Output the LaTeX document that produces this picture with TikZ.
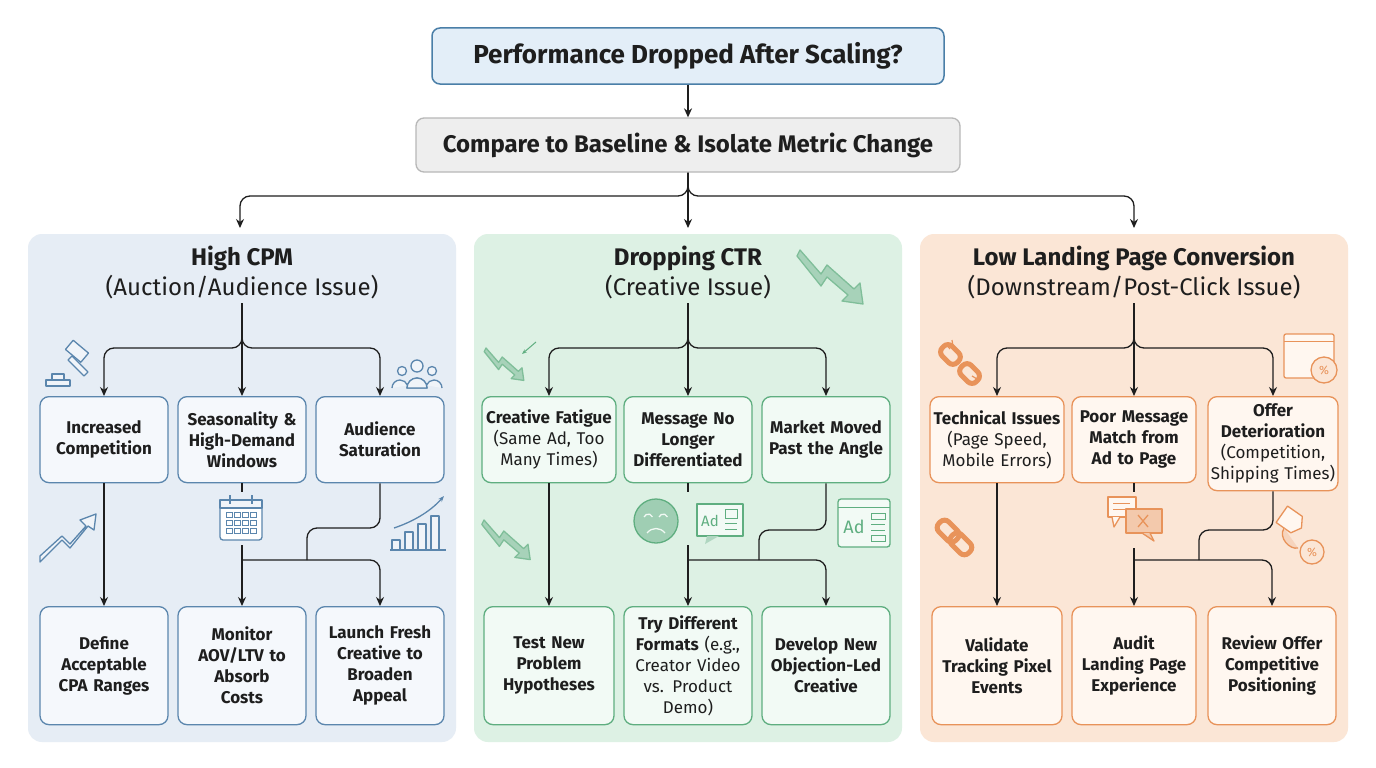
\documentclass[tikz,border=0pt]{standalone}
\usepackage{fontspec}
\setmainfont{Fira Sans}
\usetikzlibrary{arrows.meta}
\definecolor{bB}{HTML}{5B86AD}\definecolor{bF}{HTML}{E6EDF5}\definecolor{bL}{HTML}{F5F8FC}
\definecolor{gB}{HTML}{5FAE80}\definecolor{gF}{HTML}{DDF1E4}\definecolor{gL}{HTML}{F2FAF5}
\definecolor{oB}{HTML}{E8935A}\definecolor{oF}{HTML}{FBE6D6}\definecolor{oL}{HTML}{FFF7F0}
\definecolor{tF}{HTML}{E3EEF8}\definecolor{tB}{HTML}{4A7FA8}
\definecolor{sF}{HTML}{EEEEEE}\definecolor{sB}{HTML}{B8B8B8}
\definecolor{ink}{HTML}{1E1E1E}
\tikzset{
 box/.style={draw=#1B,fill=#1L,line width=1.3pt,rounded corners=9pt,align=center,
   font=\fontsize{17}{21}\selectfont\bfseries,text=ink,inner sep=1pt},
 panel/.style={fill=#1F,rounded corners=14pt,draw=none},
 ptitle/.style={align=center,text=ink,font=\fontsize{24}{30}\selectfont},
 arr/.style={-{Stealth[length=9pt,width=8pt]},line width=1.3pt,draw=ink,rounded corners=10pt},
 ln/.style={line width=1.3pt,draw=ink,rounded corners=10pt},
 ic/.style={line width=1.3pt,draw=#1B,fill=#1F!60!white,line join=round},
}
\newcommand{\nb}[1]{{\mdseries #1}}
\begin{document}
\begin{tikzpicture}[x=1pt,y=-1pt]
\useasboundingbox[fill=white] (0,0) rectangle (1376,768);
% panels
\fill[panel=b] (28,234) rectangle (456,742);
\fill[panel=g] (474,234) rectangle (902,742);
\fill[panel=o] (920,234) rectangle (1348,742);
% header
\node[draw=tB,fill=tF,line width=1.5pt,rounded corners=8pt,minimum width=512pt,minimum height=56pt,
  font=\fontsize{26}{30}\selectfont\bfseries,text=ink] (top) at (688,56) {Performance Dropped After Scaling?};
\node[draw=sB,fill=sF,line width=1.3pt,rounded corners=8pt,minimum width=544pt,minimum height=54pt,
  font=\fontsize{24}{28}\selectfont\bfseries,text=ink] (cmp) at (688,145) {Compare to Baseline \& Isolate Metric Change};
\coordinate (pl) at (240,228); \coordinate (pm) at (688,228); \coordinate (pr) at (1134,228);
\coordinate (sp) at (688,196);
\draw[arr] (top) -- (cmp);
\draw[arr] (cmp) -- (pm);
\draw[arr] (cmp.south) |- (sp) -| (pl);
\draw[arr] (cmp.south) |- (sp) -| (pr);
% panel titles
\node[ptitle] (tl) at (242,273) {\textbf{High CPM}\\(Auction/Audience Issue)};
\node[ptitle] (tm) at (688,273) {\textbf{Dropping CTR}\\(Creative Issue)};
\node[ptitle] (tr) at (1134,273) {\textbf{Low Landing Page Conversion}\\(Downstream/Post-Click Issue)};
% boxes row1
\foreach \n/\x/\w/\c/\t in {
 la/104/128/b/{Increased\\Competition},
 lb/242/128/b/{Seasonality \&\\High-Demand\\Windows},
 lc/380/128/b/{Audience\\Saturation},
 ma/549/134/g/{Creative Fatigue\\\nb{(Same Ad, Too}\\\nb{Many Times)}},
 mb/688/128/g/{Message No\\Longer\\Differentiated},
 mc/826/128/g/{Market Moved\\Past the Angle},
 ra/997/134/o/{Technical Issues\\\nb{(Page Speed,}\\\nb{Mobile Errors)}},
 rb/1134/124/o/{Poor Message\\Match from\\Ad to Page}}
 {\node[box=\c,minimum width=\w pt,text width=\w pt - 4pt,minimum height=86pt,anchor=north] (\n) at (\x,396) {\t};}
\node[box=o,minimum width=130pt,text width=126pt,minimum height=94pt,anchor=north] (rc) at (1273,396)
 {Offer\\Deterioration\\\nb{(Competition,}\\\nb{Shipping Times)}};
% row2
\foreach \n/\x/\w/\c/\t in {
 lA/104/128/b/{Define\\Acceptable\\CPA Ranges},
 lB/242/128/b/{Monitor\\AOV/LTV to\\Absorb\\Costs},
 lC/380/128/b/{Launch Fresh\\Creative to\\Broaden\\Appeal},
 mA/549/130/g/{Test New\\Problem\\Hypotheses},
 mB/688/128/g/{Try Different\\Formats \nb{(e.g.,}\\\nb{Creator Video}\\\nb{vs. Product}\\\nb{Demo)}},
 mC/826/128/g/{Develop New\\Objection-Led\\Creative},
 rA/997/130/o/{Validate\\Tracking Pixel\\Events},
 rB/1134/124/o/{Audit\\Landing Page\\Experience},
 rC/1272/128/o/{Review Offer\\Competitive\\Positioning}}
 {\node[box=\c,minimum width=\w pt,text width=\w pt - 4pt,minimum height=118pt,anchor=north] (\n) at (\x,606) {\t};}
% connectors per panel
\foreach \P/\a/\b/\c/\A/\B/\C/\xa/\xb/\xc/\y/\ys/\yr/\xj in {
 tl/la/lb/lc/lA/lB/lC/104/242/380/348/545/528/307,
 tm/ma/mb/mc/mA/mB/mC/549/688/826/348/545/530/759,
 tr/ra/rb/rc/rA/rB/rC/997/1134/1273/348/548/530/1199}{
 \coordinate (s\P) at (\xb,\y);
 \draw[arr] (\P.south) -- (\b);
 \draw[arr] (\P.south) |- (s\P) -| (\a);
 \draw[arr] (\P.south) |- (s\P) -| (\c);
 \draw[arr] (\a) -- (\A);
 \coordinate (u\P) at (\xb,492);
 \draw[ln] (\b.south) -- (u\P);
 \coordinate (v\P) at (\xb,\ys);
 \coordinate (j\P) at (\xj,560);
 \coordinate (k\P) at (\xb,560);
 \draw[arr] (v\P) -- (\B);
 \draw[arr] (k\P) -| (\C);
 \draw[ln] (\c.south) |- (\xj,\yr) -- (j\P);
}
% ---- icons left
\begin{scope}[shift={(68,362)}]
 \draw[ic=b] (-22,18) rectangle (2,24); \draw[ic=b] (-16,12) rectangle (-4,18);
 \draw[ic=b,rotate=-40] (-10,-20) rectangle (10,-8);
 \draw[ic=b] (4,-6) -- (20,10) -- (16,14) -- (0,-2) -- cycle;
\end{scope}
\begin{scope}[shift={(417,372)}]
 \draw[ic=b] (-10,16) arc (180:360:10) -- cycle; \draw[ic=b] (-25,16) arc(180:340:8);
 \draw[ic=b] (25,16) arc(360:200:8);
 \draw[ic=b] (-10,16) arc (180:360:10) -- cycle;
 \draw[ic=b] (0,-6) circle (6); \draw[ic=b] (-15,-1) circle (4.5); \draw[ic=b] (15,-1) circle (4.5);
\end{scope}
\begin{scope}[shift={(241,518)}]
 \draw[ic=b,fill=white,rounded corners=3pt] (-21,-18) rectangle (21,22);
 \draw[ic=b] (-21,-18) -- (21,-18) -- (21,-10) -- (-21,-10) -- cycle;
 \draw[ic=b] (-11,-23) -- (-11,-14); \draw[ic=b] (11,-23) -- (11,-14);
 \foreach \i in {-12,-4,4,12}{\foreach \j in {-3,5,13}{\draw[draw=bB,line width=1pt] (\i-3,\j-2.5) rectangle (\i+3,\j+2.5);}}
\end{scope}
\draw[ic=b] (40,556) -- (62,536) -- (70,544) -- (86,526) -- (80,520) -- (96,514) -- (94,530) -- (88,526) -- (70,548) -- (62,540) -- (40,562) -- cycle;
\begin{scope}[shift={(392,550)}]
 \foreach \i/\h in {0/10,13/18,26/26,39/34}{\draw[ic=b] (\i,0) rectangle (\i+8,-\h);}
 \draw[draw=bB,line width=1.3pt,-{Stealth[length=6pt]}] (2,-22) .. controls (20,-28) and (38,-38) .. (52,-54);
 \draw[draw=bB,line width=1.3pt] (-2,0) -- (54,0);
\end{scope}
% ---- icons middle
\foreach \sx/\sy/\s in {486/348/0.9,484/520/1.1,800/250/1.5}{
 \begin{scope}[shift={(\sx,\sy)},scale=\s]
 \draw[ic=g,fill=gB!55!white,draw=gB!80!white] (0,0) -- (14,16) -- (18,10) -- (36,26) -- (40,22) -- (42,36) -- (28,34) -- (32,30) -- (18,18) -- (14,24) -- (-2,4) -- cycle;
 \end{scope}}
\draw[draw=gB,line width=1pt,-{Stealth[length=5pt]}] (536,342) -- (522,354);
\begin{scope}[shift={(656,521)}]
 \draw[line width=1.3pt,draw=gB,fill=gB!60!white] (0,0) circle (22);
 \draw[line width=1.3pt,draw=gF!40!white] (-12,-4) arc (200:340:4.5); \draw[line width=1.3pt,draw=gF!40!white] (3,-4) arc (200:340:4.5);
 \draw[line width=1.3pt,draw=gF!40!white] (-9,12) .. controls (-4,6) and (4,6) .. (9,12);
\end{scope}
\begin{scope}[shift={(697,504)}]
 \draw[ic=g,fill=gL] (0,0) rectangle (46,32);
 \fill[gB!50!white] (10,32) -- (22,32) -- (8,40) -- cycle;
 \node[font=\fontsize{15}{15}\selectfont,text=gB,inner sep=0] (adA) at (13,17) {Ad};
 \draw[draw=gB,line width=1pt] (28,5) rectangle (40,14); \draw[draw=gB,line width=1pt] (28,19) -- (40,19) (28,25) -- (40,25);
\end{scope}
\begin{scope}[shift={(838,499)}]
 \draw[ic=g,fill=gL,rounded corners=3pt] (0,0) rectangle (52,48);
 \draw[draw=gB,line width=1pt] (0,8) -- (52,8);
 \node[font=\fontsize{18}{18}\selectfont,text=gB,inner sep=0] (adB) at (16,28) {Ad};
 \draw[draw=gB,line width=1pt] (33,14) rectangle (47,20) (33,25) -- (47,25) (33,31) -- (47,31) (33,36) rectangle (47,42);
\end{scope}
% ---- icons right
\begin{scope}[shift={(960,364)},rotate=-45]
 \draw[draw=oB,line width=5pt,fill=none,rounded corners=6pt] (-24,-7) rectangle (-3,7);
 \draw[draw=oB,line width=5pt,fill=none,rounded corners=6pt] (3,-7) rectangle (24,7);
\end{scope}
\draw[draw=oB,line width=1.2pt] (946,344) -- (950,349) (952,340) -- (953,346) (972,376) -- (977,379);
\begin{scope}[shift={(958,541)},rotate=-45]
 \draw[draw=oB,line width=5pt,rounded corners=6pt] (-26,-7) rectangle (-2,7);
 \draw[draw=oB,line width=5pt,rounded corners=6pt] (-8,-7) rectangle (16,7);
\end{scope}
\begin{scope}[shift={(1108,497)}]
 \draw[ic=o,fill=oL] (0,0) rectangle (28,20); \draw[ic=o,fill=oL] (4,20) -- (6,30) -- (12,20);
 \draw[draw=oB,line width=1pt] (5,6) -- (22,6) (5,12) -- (18,12);
 \draw[ic=o,fill=oB!50!white] (18,12) rectangle (54,36); \draw[ic=o,fill=oB!50!white] (42,36) -- (46,44) -- (34,36);
 \draw[draw=oB,line width=1.3pt] (30,18) -- (40,30) (40,18) -- (30,30);
\end{scope}
\begin{scope}[shift={(1284,334)}]
 \draw[ic=o,fill=oL,rounded corners=2pt] (0,0) rectangle (50,44);
 \draw[draw=oB,line width=1pt] (0,7) -- (50,7);
 \draw[ic=o,fill=oF] (40,36) circle (13);
 \node[font=\fontsize{12}{12}\selectfont,text=oB,inner sep=0] (pc1) at (40,36) {\%};
\end{scope}
\begin{scope}[shift={(1290,520)}]
 \draw[ic=o,fill=oL,rotate=-35] (-10,-10) -- (8,-10) -- (14,0) -- (8,10) -- (-10,10) -- cycle;
 \draw[ic=o,fill=oB!40!white] (-6,8) .. controls (-12,18) and (0,30) .. (8,28);
 \draw[ic=o,fill=oF] (22,32) circle (12);
 \node[font=\fontsize{12}{12}\selectfont,text=oB,inner sep=0] (pc2) at (22,32) {\%};
\end{scope}
\end{tikzpicture}
\end{document}
